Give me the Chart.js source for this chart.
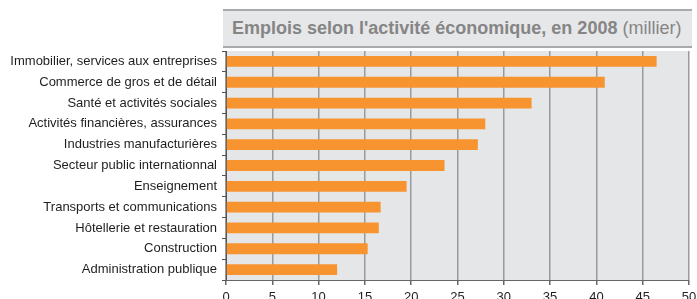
<!DOCTYPE html>
<html>
<head>
<meta charset="utf-8">
<script src="https://cdn.jsdelivr.net/npm/chart.js@4"></script>
<style>
  body { margin: 0; background: #fff; }
  #wrap { position: relative; width: 697px; height: 299px; }
  #title {
    position: absolute; left: 223px; top: 9px; width: 460px; height: 35px;
    background: #e6e7e9; border-top: 2px solid #a9a9ab; border-bottom: 2px solid #a9a9ab;
    font-family: "Liberation Sans", Arial, sans-serif; font-size: 18px; color: #858585;
    line-height: 35px; padding-left: 9px; white-space: nowrap;
  }
  #title b { font-weight: bold; }
</style>
</head>
<body>
<div id="wrap">
  <canvas id="chart1" width="697" height="299"></canvas>
  <div id="title"><b>Emplois selon l'activité économique, en 2008</b> (millier)</div>
</div>
<script>
const categories = [
  "Immobilier, services aux entreprises",
  "Commerce de gros et de détail",
  "Santé et activités sociales",
  "Activités financières, assurances",
  "Industries manufacturières",
  "Secteur public internationnal",
  "Enseignement",
  "Transports et communications",
  "Hôtellerie et restauration",
  "Construction",
  "Administration publique"
];
const emplois = [46.5, 40.9, 33.0, 28.0, 27.2, 23.6, 19.5, 16.7, 16.5, 15.3, 12.0];

// grey background behind the plot area
const plotBg = {
  id: "plotBg",
  beforeDraw(chart) {
    const a = chart.chartArea;
    const ctx = chart.ctx;
    ctx.save();
    ctx.fillStyle = "#e5e6e8";
    ctx.fillRect(a.left, a.top, a.right - a.left, a.bottom - a.top);
    ctx.restore();
  },
};

new Chart("chart1", {
  type: "bar",
  data: {
    labels: categories,
    datasets: [
      {
        label: "Emplois",
        data: emplois,
        backgroundColor: "#f7942f",
        barPercentage: 0.52,
        categoryPercentage: 1,
      },
    ],
  },
  options: {
    indexAxis: "y",
    responsive: false,
    animation: false,
    layout: { padding: { top: 51, right: 8, left: 0, bottom: 0 } },
    plugins: { legend: { display: false }, tooltip: { enabled: false } },
    scales: {
      x: {
        min: 0,
        max: 50,
        ticks: {
          stepSize: 5,
          color: "#1e1e1e",
          font: { family: "Liberation Sans", size: 13 },
          padding: 5,
        },
        grid: { color: "#9a9a9c", lineWidth: 1.5, tickLength: 5, tickColor: "#666" },
        border: { color: "#666", width: 1 },
        afterFit(scale) {
          scale.height = 19;
          scale.paddingLeft = 0;
          scale.paddingRight = 0;
        },
      },
      y: {
        ticks: {
          color: "#1e1e1e",
          font: { family: "Liberation Sans", size: 13 },
          padding: 5,
        },
        grid: { offset: true, drawOnChartArea: false, tickLength: 4, tickColor: "#555" },
        border: { color: "#555", width: 1 },
        afterFit(scale) { scale.width = 226; },
      },
    },
  },
  plugins: [plotBg],
});
</script>
</body>
</html>
